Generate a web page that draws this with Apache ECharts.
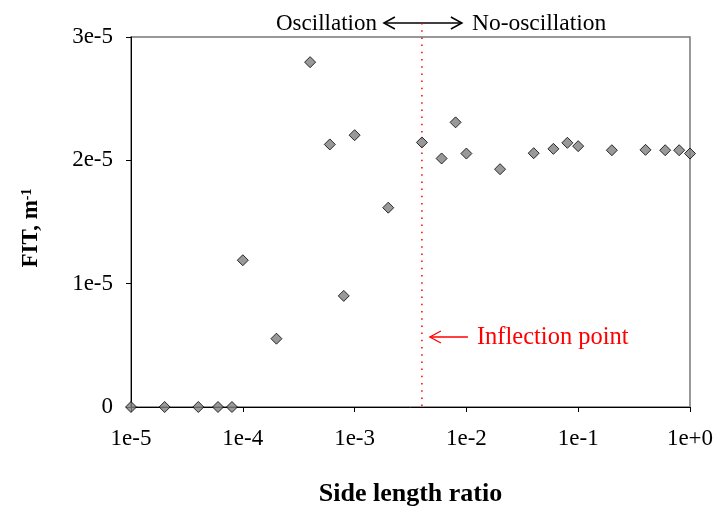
<!DOCTYPE html>
<html><head><meta charset="utf-8">
<script src="https://cdn.jsdelivr.net/npm/echarts@6/dist/echarts.min.js"></script>
<style>html,body{margin:0;padding:0;background:#fff}#c{width:717px;height:506px}</style>
</head><body><div id="c"></div>
<script>
const sideRatio = [1e-5,2e-5,4e-5,6e-5,8e-5,1e-4,2e-4,4e-4,6e-4,8e-4,1e-3,2e-3,4e-3,6e-3,8e-3,1e-2,2e-2,4e-2,6e-2,8e-2,1e-1,2e-1,4e-1,6e-1,8e-1,1];
const fit = [0,0,0,0,0,1.19e-5,0.554e-5,2.796e-5,2.129e-5,0.901e-5,2.204e-5,1.616e-5,2.145e-5,2.015e-5,2.308e-5,2.055e-5,1.928e-5,2.058e-5,2.093e-5,2.142e-5,2.115e-5,2.082e-5,2.085e-5,2.082e-5,2.082e-5,2.055e-5];
const xTickLabels = ['1e-5','1e-4','1e-3','1e-2','1e-1','1e+0'];
const yTickLabels = ['0','1e-5','2e-5','3e-5'];
const inflectionX = 4e-3;

const FONT = 'Liberation Serif';
const chart = echarts.init(document.getElementById('c'), null, {renderer: 'canvas'});
const data = sideRatio.map((x, i) => [x, fit[i]]);

chart.setOption({
  animation: false,
  backgroundColor: '#fff',
  grid: {left: 131, right: 27, top: 37, bottom: 99, show: true, borderColor: '#777', borderWidth: 1.5, containLabel: false, outerBoundsMode: 'none'},
  xAxis: {
    type: 'log', logBase: 10, min: 1e-5, max: 1,
    name: 'Side length ratio', nameLocation: 'middle', nameGap: 74,
    nameTextStyle: {fontFamily: FONT, fontSize: 26, fontWeight: 'bold', color: '#000'},
    axisLine: {show: true, lineStyle: {color: '#000', width: 1}},
    axisTick: {show: true, inside: false, length: 5, lineStyle: {color: '#000'}},
    minorTick: {show: false},
    splitLine: {show: false},
    axisLabel: {
      fontFamily: FONT, fontSize: 23, color: '#000', margin: 20,
      formatter: v => xTickLabels[Math.round(Math.log10(v)) + 5]
    }
  },
  yAxis: {
    type: 'value', min: 0, max: 3e-5, interval: 1e-5,
    name: '{a|FIT, m}{b|-1}', nameLocation: 'middle', nameGap: 88, nameRotate: 90,
    nameTextStyle: {
      fontFamily: FONT, color: '#000', padding: [0, 12, 0, 0],
      rich: {
        a: {fontFamily: FONT, fontSize: 23, fontWeight: 'bold', color: '#000'},
        b: {fontFamily: FONT, fontSize: 14, fontWeight: 'bold', color: '#000', verticalAlign: 'top'}
      }
    },
    axisLine: {show: true, lineStyle: {color: '#000', width: 1}},
    axisTick: {show: true, inside: false, length: 5, lineStyle: {color: '#000'}},
    splitLine: {show: false},
    axisLabel: {
      fontFamily: FONT, fontSize: 23, color: '#000', margin: 18,
      formatter: v => yTickLabels[Math.round(v / 1e-5)]
    }
  },
  series: [{
    type: 'scatter', data: data, symbol: 'diamond', symbolSize: 11, clip: false,
    itemStyle: {color: '#7f7f7f', borderColor: '#000', borderWidth: 1}
  }]
});

const px = chart.convertToPixel({xAxisIndex: 0}, inflectionX);
const yBottom = chart.convertToPixel({yAxisIndex: 0}, 0);
const arrowY = 23;
const inflY = 337;
const red = '#ff0000';
chart.setOption({
  graphic: [
    {type: 'line', silent: true, z: 1, shape: {x1: px, y1: arrowY, x2: px, y2: yBottom},
      style: {stroke: red, lineWidth: 1.5, lineDash: [1.5, 5.7]}},
    // top double arrow
    {type: 'line', shape: {x1: px - 38, y1: arrowY, x2: px + 40, y2: arrowY}, style: {stroke: '#000', lineWidth: 1.5}},
    {type: 'polyline', shape: {points: [[px - 27, arrowY - 6], [px - 38, arrowY], [px - 27, arrowY + 6]]}, style: {stroke: '#000', lineWidth: 1.5, fill: null}},
    {type: 'polyline', shape: {points: [[px + 29, arrowY - 6], [px + 40, arrowY], [px + 29, arrowY + 6]]}, style: {stroke: '#000', lineWidth: 1.5, fill: null}},
    {type: 'text', x: px - 45, y: arrowY + 0.5, style: {text: 'Oscillation', font: '23px "Liberation Serif"', fill: '#000', align: 'right', verticalAlign: 'middle'}},
    {type: 'text', x: px + 50, y: arrowY + 0.5, style: {text: 'No-oscillation', font: '23.5px "Liberation Serif"', fill: '#000', align: 'left', verticalAlign: 'middle'}},
    // inflection arrow
    {type: 'line', shape: {x1: px + 8, y1: inflY, x2: px + 46, y2: inflY}, style: {stroke: red, lineWidth: 1.3}},
    {type: 'polyline', shape: {points: [[px + 19, inflY - 6], [px + 8, inflY], [px + 19, inflY + 6]]}, style: {stroke: red, lineWidth: 1.3, fill: null}},
    {type: 'text', x: px + 55, y: inflY + 1, style: {text: 'Inflection point', font: '24.5px "Liberation Serif"', fill: red, align: 'left', verticalAlign: 'middle'}}
  ]
});
</script>
</body></html>
